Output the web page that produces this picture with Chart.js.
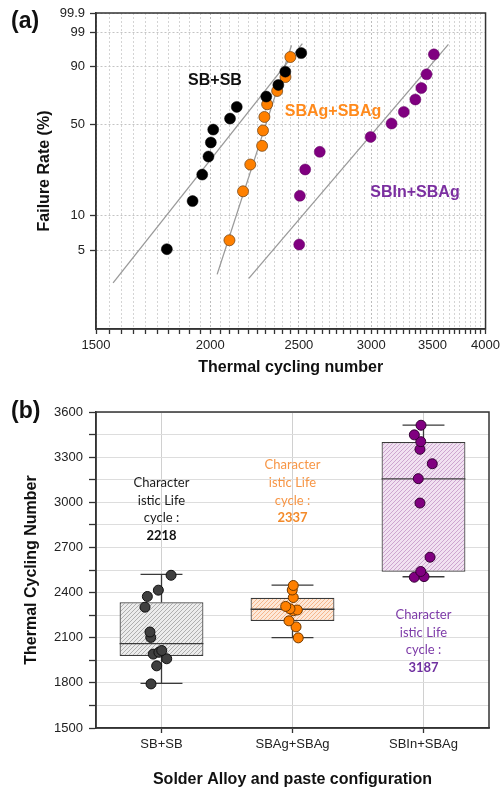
<!DOCTYPE html>
<html>
<head>
<meta charset="utf-8">
<script src="https://cdn.jsdelivr.net/npm/chart.js@4.4.0/dist/chart.umd.min.js"></script>
<style>
  html, body { margin: 0; padding: 0; background: #fff; }
  #wrap { position: relative; width: 504px; height: 790px; overflow: hidden; font-family: "Liberation Sans", Arial, sans-serif; }
  .panel { position: absolute; font-weight: bold; font-size: 23px; line-height: 1; color: #111; }
  #boxA { position: absolute; left: 0; top: 0; width: 504px; height: 388px; }
  #boxB { position: absolute; left: 0; top: 388px; width: 504px; height: 402px; }
</style>
</head>
<body>
<div id="wrap">
  <div id="boxA"><canvas id="weibull"></canvas></div>
  <div id="boxB"><canvas id="boxplot"></canvas></div>
  <div class="panel" style="left:11px;top:9px">(a)</div>
  <div class="panel" style="left:11px;top:399px">(b)</div>
</div>
<script>
// ---- data ----
const configs = ['SB+SB', 'SBAg+SBAg', 'SBIn+SBAg'];

// cycles to failure per joint configuration
const sbCycles = [1793, 1913, 1960, 1991, 2003, 2015, 2102, 2138, 2303, 2374, 2416, 2515];
const agCycles = [2099, 2172, 2212, 2279, 2284, 2292, 2308, 2367, 2417, 2447];
const inCycles = [2502, 2506, 2540, 2635, 2995, 3157, 3256, 3352, 3403, 3448, 3512];

// failure rate (%) of each point on the Weibull plot
const sbFail = [5.1, 13.2, 21.7, 29.9, 37.8, 46.2, 54.1, 62.9, 70.7, 79.0, 87.2, 95.1];
const agFail = [6.1, 15.9, 26.0, 35.8, 45.6, 55.3, 64.9, 74.8, 84.1, 93.8];
const inFail = [5.6, 14.6, 23.8, 32.4, 41.3, 50.5, 59.1, 68.5, 76.9, 85.7, 94.7];

// Weibull fit lines (end points)
const sbFitCycles = [1566, 2522], sbFitFail = [2.57, 97.45];
const agFitCycles = [2035, 2454], agFitFail = [3.06, 97.1];
const inFitCycles = [2204, 3643], inFitFail = [2.82, 97.3];

// horizontal spread of the dots in the box plot (category units)
const sbJitter = [-0.080, -0.037, 0.040, -0.063, -0.020, 0.002, -0.082, -0.088, -0.126, -0.108, -0.024, 0.073];
const agJitter = [0.044, 0.027, -0.027, 0.006, 0.037, -0.019, -0.052, 0.006, -0.002, 0.006];
const inJitter = [-0.070, 0.004, -0.021, 0.050, -0.027, -0.040, 0.067, -0.027, -0.021, -0.070, -0.019];

// box plot statistics
const whiskLow  = [1796, 2101, 2505];
const boxQ1     = [1978, 2211, 2539];
const boxMedian = [2061, 2289, 3155];
const boxQ3     = [2336, 2366, 3401];
const whiskHigh = [2521, 2450, 3513];

const charLife = [2218, 2337, 3187];

// tick labels
const cycleTicks = [1500, 2000, 2500, 3000, 3500, 4000];
const cycleMinorStep = 50;
const failTicks = [5, 10, 50, 90, 99, 99.9];
const failTickLabels = ['5', '10', '50', '90', '99', '99.9'];

// ---- helpers ----
const FONT = '"Liberation Sans", Arial, sans-serif';
const weib = p => Math.log(-Math.log(1 - p / 100));
const pairs = (xs, ps) => xs.map((x, i) => ({x: x, y: weib(ps[i])}));

const xGrid = [];
for (let v = cycleTicks[0]; v <= cycleTicks[cycleTicks.length - 1]; v += cycleMinorStep) xGrid.push(v);

const frame = {
  id: 'frame',
  afterDraw(chart) {
    const a = chart.chartArea, ctx = chart.ctx;
    ctx.save();
    ctx.strokeStyle = '#333';
    ctx.lineWidth = 1.5;
    ctx.strokeRect(a.left, a.top, a.right - a.left, a.bottom - a.top);
    ctx.restore();
  }
};

const weibullLabels = {
  id: 'weibullLabels',
  afterDatasetsDraw(chart) {
    const ctx = chart.ctx;
    ctx.save();
    ctx.font = 'bold 16px ' + FONT;
    ctx.textAlign = 'center';
    ctx.textBaseline = 'middle';
    ctx.fillStyle = '#111'; ctx.fillText('SB+SB', 215, 81);
    ctx.fillStyle = '#ff8a1c'; ctx.fillText('SBAg+SBAg', 333, 112);
    ctx.fillStyle = '#7b2fa0'; ctx.fillText('SBIn+SBAg', 415, 193);
    ctx.restore();
  }
};

new Chart(document.getElementById('weibull'), {
  type: 'scatter',
  data: {
    datasets: [
      {data: pairs(sbCycles, sbFail), backgroundColor: '#000', borderColor: '#000', borderWidth: 0.5, pointRadius: 5.5, order: 0},
      {data: pairs(agCycles, agFail), backgroundColor: '#ff8000', borderColor: '#7a4a1a', borderWidth: 0.8, pointRadius: 5.5, order: 0},
      {data: pairs(inCycles, inFail), backgroundColor: '#800080', borderColor: '#600060', borderWidth: 0.5, pointRadius: 5.5, order: 0},
      {type: 'line', data: pairs(sbFitCycles, sbFitFail), borderColor: '#9a9a9a', borderWidth: 1.3, pointRadius: 0, order: 1},
      {type: 'line', data: pairs(agFitCycles, agFitFail), borderColor: '#9a9a9a', borderWidth: 1.3, pointRadius: 0, order: 1},
      {type: 'line', data: pairs(inFitCycles, inFitFail), borderColor: '#9a9a9a', borderWidth: 1.3, pointRadius: 0, order: 1}
    ]
  },
  options: {
    responsive: true,
    maintainAspectRatio: false,
    animation: false,
    layout: {padding: {left: 0, top: 13, right: 15, bottom: 0}},
    plugins: {legend: {display: false}, tooltip: {enabled: false}},
    scales: {
      x: {
        type: 'logarithmic', min: 1500, max: 4000,
        afterBuildTicks: s => { s.ticks = xGrid.map(v => ({value: v})); },
        afterFit: s => { s.height = 59; },
        ticks: {
          autoSkip: false, maxRotation: 0, padding: 4, color: '#222',
          font: {family: FONT, size: 13},
          callback: v => cycleTicks.includes(v) ? String(v) : ''
        },
        grid: {
          color: c => (c.tick && cycleTicks.includes(c.tick.value)) ? '#bcbcbc' : '#d4d4d4',
          lineWidth: 1, tickLength: 5, tickColor: '#333', tickWidth: 1.3
        },
        border: {color: '#333', width: 1.5, dash: [2, 2]},
        title: {display: true, text: 'Thermal cycling number', color: '#111',
                font: {family: FONT, size: 16, weight: 'bold'}, padding: {top: 0, bottom: 11}}
      },
      y: {
        type: 'linear', min: weib(1), max: weib(99.9),
        afterBuildTicks: s => { s.ticks = failTicks.map(p => ({value: weib(p)})); },
        afterFit: s => { s.width = 96; },
        ticks: {
          autoSkip: false, padding: 5, color: '#222',
          font: {family: FONT, size: 13},
          callback: (v, i) => failTickLabels[i]
        },
        grid: {color: '#c4c4c4', lineWidth: 1, tickLength: 6, tickColor: '#333', tickWidth: 1.3},
        border: {color: '#333', width: 1.5, dash: [2, 2]},
        title: {display: true, text: 'Failure Rate (%)', color: '#111',
                font: {family: FONT, size: 16, weight: 'bold'}, padding: {top: 35, bottom: 0}}
      }
    }
  },
  plugins: [frame, weibullLabels]
});

// ---- box plot ----
function hatch(bg, line) {
  const c = document.createElement('canvas');
  c.width = 4; c.height = 4;
  const g = c.getContext('2d');
  g.fillStyle = bg;
  g.fillRect(0, 0, 4, 4);
  g.strokeStyle = line;
  g.lineWidth = 0.9;
  g.beginPath();
  g.moveTo(0, 4); g.lineTo(4, 0);
  g.moveTo(-1, 1); g.lineTo(1, -1);
  g.moveTo(3, 5); g.lineTo(5, 3);
  g.stroke();
  return g.createPattern(c, 'repeat');
}

const boxWhiskers = {
  id: 'boxWhiskers',
  afterDatasetDraw(chart, args) {
    if (args.meta.type !== 'bar') return;
    const ctx = chart.ctx, x = chart.scales.x, y = chart.scales.y;
    ctx.save();
    ctx.strokeStyle = '#3a3a3a';
    ctx.lineWidth = 1.3;
    configs.forEach((c, i) => {
      const cx = x.getPixelForValue(i);
      const half = args.meta.data[i].width / 2;
      const cap = half / 2;
      ctx.beginPath();
      ctx.moveTo(cx - half, y.getPixelForValue(boxMedian[i]));
      ctx.lineTo(cx + half, y.getPixelForValue(boxMedian[i]));
      ctx.moveTo(cx, y.getPixelForValue(boxQ3[i]));
      ctx.lineTo(cx, y.getPixelForValue(whiskHigh[i]));
      ctx.moveTo(cx, y.getPixelForValue(boxQ1[i]));
      ctx.lineTo(cx, y.getPixelForValue(whiskLow[i]));
      ctx.moveTo(cx - cap, y.getPixelForValue(whiskHigh[i]));
      ctx.lineTo(cx + cap, y.getPixelForValue(whiskHigh[i]));
      ctx.moveTo(cx - cap, y.getPixelForValue(whiskLow[i]));
      ctx.lineTo(cx + cap, y.getPixelForValue(whiskLow[i]));
      ctx.stroke();
    });
    ctx.restore();
  }
};

const lifeNotes = {
  id: 'lifeNotes',
  afterDraw(chart) {
    const ctx = chart.ctx, x = chart.scales.x, y = chart.scales.y;
    const anchors = [3130, 3247, 2252];
    const colors = [['#1a1a1a', '#111'], ['#f79646', '#f38a2a'], ['#7d3ba8', '#7030a0']];
    ctx.save();
    ctx.textAlign = 'center';
    ctx.textBaseline = 'middle';
    configs.forEach((c, i) => {
      const cx = x.getPixelForValue(i);
      const top = y.getPixelForValue(anchors[i]);
      ctx.font = '13px Lato, "Open Sans", sans-serif';
      ctx.fillStyle = colors[i][0];
      ['Character', 'istic Life', 'cycle :'].forEach((t, k) => ctx.fillText(t, cx, top + k * 17.6));
      ctx.font = 'bold 13px Lato, "Open Sans", sans-serif';
      ctx.fillStyle = colors[i][1];
      ctx.fillText(String(charLife[i]), cx, top + 3 * 17.6);
    });
    ctx.restore();
  }
};

const dots = (vals, jit, gi) => vals.map((v, k) => ({x: gi + jit[k], y: v}));

new Chart(document.getElementById('boxplot'), {
  type: 'bar',
  data: {
    datasets: [
      {
        type: 'bar',
        data: configs.map((c, i) => ({x: i, y: [boxQ1[i], boxQ3[i]]})),
        backgroundColor: [hatch('#ececec', '#a8a8a8'), hatch('#fde9d9', '#f4b183'), hatch('#f1e1f1', '#c89fcc')],
        borderColor: '#3a3a3a', borderWidth: 1.2, borderSkipped: false,
        barPercentage: 0.8, categoryPercentage: 0.8, order: 2
      },
      {type: 'scatter', data: dots(sbCycles, sbJitter, 0), backgroundColor: '#3f3f3f', borderColor: '#111', borderWidth: 1, pointRadius: 5, order: 0},
      {type: 'scatter', data: dots(agCycles, agJitter, 1), backgroundColor: '#ff8000', borderColor: '#6e3800', borderWidth: 1, pointRadius: 5, order: 0},
      {type: 'scatter', data: dots(inCycles, inJitter, 2), backgroundColor: '#800080', borderColor: '#350035', borderWidth: 1, pointRadius: 5, order: 0}
    ]
  },
  options: {
    responsive: true,
    maintainAspectRatio: false,
    animation: false,
    layout: {padding: {left: 0, top: 24, right: 15, bottom: 0}},
    plugins: {legend: {display: false}, tooltip: {enabled: false}},
    scales: {
      x: {
        type: 'linear', min: -0.5, max: 2.5, offset: false,
        afterBuildTicks: s => { s.ticks = configs.map((c, i) => ({value: i})); },
        afterFit: s => { s.height = 62; },
        ticks: {autoSkip: false, maxRotation: 0, padding: 4, color: '#222',
                font: {family: FONT, size: 13}, callback: (v, i) => configs[i]},
        grid: {offset: false, color: '#d0d0d0', lineWidth: 1, tickLength: 5, tickColor: '#333', tickWidth: 1.3},
        border: {color: '#333', width: 1.5},
        title: {display: true, text: 'Solder Alloy and paste configuration', color: '#111',
                font: {family: FONT, size: 16, weight: 'bold'}, padding: {top: 0, bottom: 1}}
      },
      y: {
        type: 'linear', min: 1500, max: 3600,
        afterFit: s => { s.width = 96; },
        ticks: {stepSize: 150, autoSkip: false, padding: 6, color: '#222',
                font: {family: FONT, size: 13}, callback: v => v % 300 === 0 ? String(v) : ''},
        grid: {color: '#dddddd', lineWidth: 1, tickLength: 7, tickColor: '#333', tickWidth: 1.3},
        border: {color: '#333', width: 1.5},
        title: {display: true, text: 'Thermal Cycling Number', color: '#111',
                font: {family: FONT, size: 16, weight: 'bold'}, padding: {top: 22, bottom: 0}}
      }
    }
  },
  plugins: [boxWhiskers, frame, lifeNotes]
});
</script>
</body>
</html>
